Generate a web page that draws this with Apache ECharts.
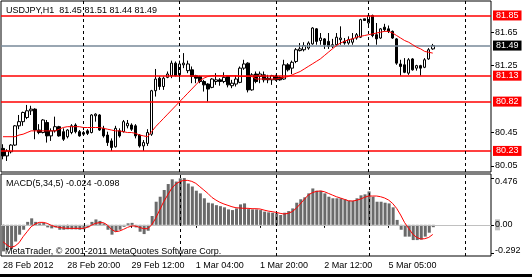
<!DOCTYPE html>
<html>
<head>
<meta charset="utf-8">
<script src="https://cdn.jsdelivr.net/npm/echarts/dist/echarts.min.js"></script>
<style>html,body{margin:0;padding:0;background:#fff;}#c{width:532px;height:277px;}</style>
</head>
<body>
<div id="c"></div>
<script>
const opens  = [80.26,80.17,80.22,80.30,80.53,80.58,80.63,80.71,80.73,80.48,
 80.45,80.57,80.41,80.47,80.52,80.46,80.40,80.45,80.54,80.46,
 80.43,80.47,80.45,80.65,80.66,80.50,80.42,80.35,80.28,80.47,
 80.46,80.53,80.54,80.53,80.42,80.29,80.32,80.43,80.95,81.10,
 81.00,81.11,81.13,81.28,81.14,81.26,81.19,81.20,81.13,81.12,
 81.06,81.03,80.99,81.06,81.08,81.06,81.12,81.01,81.03,81.05,
 81.22,81.28,80.96,81.15,81.12,81.14,81.10,81.08,81.12,81.11,
 81.09,81.26,81.22,81.30,81.43,81.44,81.46,81.51,81.69,81.55,
 81.57,81.54,81.48,81.50,81.56,81.54,81.52,81.53,81.58,81.59,
 81.81,81.76,81.85,81.62,81.58,81.71,81.69,81.66,81.57,81.27,
 81.26,81.16,81.33,81.22,81.25,81.23,81.33,81.45];
const highs  = [80.31,80.25,80.31,80.54,80.66,80.70,80.78,80.77,80.74,80.55,
 80.61,80.60,80.50,80.64,80.53,80.50,80.49,80.55,80.56,80.48,
 80.47,80.49,80.67,80.68,80.67,80.53,80.46,80.38,80.53,80.50,
 80.60,80.60,80.56,80.55,80.43,80.36,80.49,80.96,81.21,81.12,
 81.12,81.18,81.31,81.30,81.31,81.40,81.31,81.24,81.14,81.13,
 81.08,81.04,81.10,81.16,81.10,81.17,81.13,81.08,81.13,81.24,
 81.32,81.29,81.16,81.18,81.18,81.18,81.14,81.14,81.14,81.12,
 81.32,81.28,81.31,81.46,81.52,81.53,81.54,81.71,81.70,81.64,
 81.58,81.64,81.57,81.64,81.72,81.58,81.60,81.64,81.64,81.81,
 81.81,81.86,81.86,81.76,81.70,81.75,81.73,81.67,81.58,81.32,
 81.34,81.34,81.34,81.26,81.26,81.34,81.46,81.51];
const lows   = [80.13,80.11,80.20,80.29,80.49,80.53,80.61,80.66,80.37,80.43,
 80.44,80.33,80.35,80.45,80.40,80.35,80.38,80.43,80.44,80.40,
 80.42,80.42,80.44,80.58,80.47,80.39,80.29,80.23,80.27,80.39,
 80.45,80.50,80.47,80.38,80.27,80.23,80.29,80.41,80.88,80.96,
 80.96,81.10,81.10,81.12,81.08,81.22,81.16,81.04,81.04,81.04,
 80.94,80.82,80.98,81.02,81.01,81.04,80.99,80.98,81.00,81.04,
 81.20,80.93,80.95,81.04,81.04,81.05,81.04,81.02,81.07,81.07,
 81.08,81.18,81.15,81.28,81.42,81.42,81.44,81.50,81.50,81.50,
 81.45,81.45,81.46,81.48,81.50,81.50,81.50,81.50,81.56,81.58,
 81.79,81.72,81.59,81.50,81.57,81.66,81.64,81.57,81.26,81.13,
 81.16,81.14,81.19,81.19,81.13,81.22,81.32,81.44];
const closes = [80.17,80.23,80.30,80.53,80.58,80.69,80.71,80.73,80.48,80.45,
 80.60,80.41,80.47,80.52,80.41,80.37,80.48,80.53,80.46,80.41,
 80.45,80.44,80.66,80.67,80.48,80.41,80.33,80.27,80.50,80.41,
 80.58,80.56,80.49,80.41,80.29,80.33,80.45,80.95,81.09,81.00,
 81.10,81.15,81.28,81.13,81.27,81.28,81.27,81.12,81.10,81.06,
 81.02,80.97,81.09,81.08,81.06,81.11,81.02,81.04,81.09,81.22,
 81.27,80.96,81.14,81.06,81.15,81.08,81.08,81.13,81.08,81.08,
 81.26,81.20,81.29,81.44,81.45,81.49,81.52,81.70,81.54,81.58,
 81.50,81.48,81.50,81.59,81.58,81.52,81.56,81.57,81.62,81.80,
 81.79,81.85,81.61,81.57,81.69,81.68,81.66,81.58,81.28,81.24,
 81.17,81.32,81.20,81.25,81.22,81.32,81.44,81.49];
const maValues = [80.40,80.40,80.40,80.40,80.42,80.43,80.45,80.47,80.47,80.47,
 80.47,80.47,80.47,80.47,80.49,80.51,80.52,80.52,80.52,80.52,
 80.51,80.51,80.51,80.51,80.51,80.50,80.49,80.48,80.47,80.47,
 80.46,80.45,80.45,80.44,80.42,80.41,80.40,80.46,80.52,80.57,
 80.62,80.67,80.72,80.77,80.82,80.87,80.92,80.97,81.02,81.07,
 81.10,81.12,81.13,81.13,81.13,81.13,81.13,81.13,81.13,81.12,
 81.12,81.12,81.12,81.09,81.09,81.09,81.09,81.09,81.09,81.10,
 81.11,81.12,81.14,81.16,81.18,81.21,81.24,81.27,81.30,81.33,
 81.37,81.41,81.45,81.49,81.52,81.54,81.56,81.57,81.59,81.60,
 81.61,81.62,81.63,81.64,81.65,81.66,81.66,81.64,81.61,81.58,
 81.55,81.53,81.50,81.47,81.45,81.42,81.41,81.40];
const macdMain = [-0.27,-0.256,-0.246,-0.17,-0.10,-0.05,0.03,0.066,0.03,0.015,
 0.02,-0.026,-0.036,-0.026,-0.05,-0.05,-0.046,-0.046,-0.046,-0.05,
 -0.046,-0.026,0.03,0.055,0.04,0.015,-0.05,-0.10,-0.07,-0.05,
 -0.02,0.015,0.02,-0.026,-0.07,-0.094,-0.06,0.09,0.235,0.286,
 0.354,0.415,0.463,0.44,0.473,0.476,0.42,0.39,0.347,0.32,
 0.27,0.225,0.218,0.20,0.19,0.178,0.157,0.15,0.167,0.208,
 0.218,0.16,0.157,0.157,0.15,0.134,0.127,0.123,0.117,0.10,
 0.123,0.14,0.167,0.225,0.26,0.28,0.32,0.37,0.347,0.347,
 0.32,0.286,0.27,0.27,0.27,0.26,0.245,0.245,0.27,0.30,
 0.31,0.34,0.286,0.235,0.235,0.225,0.218,0.178,0.05,-0.05,
 -0.12,-0.12,-0.155,-0.155,-0.15,-0.12,-0.08,-0.024];
const macdSignal = [-0.172,-0.206,-0.229,-0.216,-0.182,-0.121,-0.07,-0.019,0.008,0.025,
 0.025,0.015,-0.005,-0.019,-0.026,-0.033,-0.036,-0.036,-0.036,-0.036,
 -0.036,-0.026,-0.005,0.015,0.022,0.022,-0.002,-0.046,-0.07,-0.063,
 -0.046,-0.026,-0.012,-0.012,-0.026,-0.039,-0.039,-0.002,0.066,0.15,
 0.235,0.303,0.371,0.415,0.439,0.452,0.452,0.442,0.422,0.388,
 0.354,0.32,0.279,0.252,0.229,0.212,0.198,0.184,0.174,0.171,
 0.168,0.168,0.164,0.164,0.161,0.15,0.14,0.134,0.127,0.117,
 0.11,0.117,0.134,0.168,0.212,0.259,0.303,0.327,0.34,0.344,
 0.337,0.32,0.303,0.286,0.273,0.259,0.245,0.242,0.249,0.262,
 0.279,0.293,0.293,0.293,0.286,0.273,0.252,0.218,0.168,0.10,
 0.022,-0.036,-0.094,-0.128,-0.144,-0.141,-0.128,-0.098];

const days      = ['28 Feb','29 Feb','1 Mar','2 Mar','5 Mar','6 Mar'];
const dayFirstH = [4,0,0,0,0,0];
const dayEndH   = [24,24,24,23,24,7];
const tickCats  = ['28 Feb 04:00','28 Feb 20:00','29 Feb 12:00','1 Mar 04:00','1 Mar 20:00','2 Mar 12:00','5 Mar 05:00'];
const tickTexts = ['28 Feb 2012','28 Feb 20:00','29 Feb 12:00','1 Mar 04:00','1 Mar 20:00','2 Mar 12:00','5 Mar 05:00'];
const separators = ['29 Feb 00:00','1 Mar 00:00','2 Mar 00:00','5 Mar 00:00','6 Mar 00:00'];

const levels = [81.85, 81.13, 80.82, 80.23];
const bidPrice = 81.49;
const priceTicks = [80.05, 80.45, 81.25, 81.65];
const macdTicks = [0.476, 0, -0.292];
const macdTickTexts = ['{t|0.476}', '{z|0}.00', '{b|-0.292}'];
const macdLast = [-0.024, -0.098];

const cats = [];
days.forEach((d, k) => {
  for (let h = dayFirstH[k]; h < dayEndH[k]; h++) cats.push(d + ' ' + String(h).padStart(2, '0') + ':00');
});
const candles = opens.map((o, i) => [o, closes[i], lows[i], highs[i]]);
const n = opens.length;

const FONT = 'Liberation Sans';
const txt = {fontFamily: FONT, fontSize: 9, color: '#000'};

function priceLabel(bg) {
  return {show: true, position: 'end', distance: 2, formatter: p => Number(p.value).toFixed(2),
    color: '#fff', backgroundColor: bg, padding: [1, 3, 0, 3], fontFamily: FONT, fontSize: 9, lineHeight: 9};
}
function sepMarkLine() {
  return {symbol: ['none', 'none'], silent: true, animation: false,
    lineStyle: {color: '#000', type: [3, 3], width: 1}, label: {show: false},
    data: separators.map(s => ({xAxis: s}))};
}

const chart = echarts.init(document.getElementById('c'), null, {renderer: 'canvas'});
chart.setOption({
  animation: false,
  backgroundColor: '#fff',
  title: [
    {text: `USDJPY,H1  ${opens[n-1].toFixed(2)} ${highs[n-1].toFixed(2)} ${lows[n-1].toFixed(2)} ${closes[n-1].toFixed(2)}`,
     left: 6, top: 6, padding: 0, textStyle: Object.assign({fontWeight: 'normal'}, txt)},
    {text: `MACD(5,34,5) ${macdLast[0].toFixed(3)} ${macdLast[1].toFixed(3)}`,
     left: 6, top: 179, padding: 0, textStyle: Object.assign({fontWeight: 'normal'}, txt)},
    {text: 'MetaTrader, © 2001-2011 MetaQuotes Software Corp.',
     left: 5, top: 247, padding: 0, textStyle: Object.assign({fontWeight: 'normal'}, txt)}
  ],
  graphic: [{type: 'rect', left: 0, bottom: 0, shape: {width: 532, height: 3}, style: {fill: '#000'}}],
  grid: [
    {left: 1, right: 41, top: 1, height: 171, show: true, borderColor: '#000', borderWidth: 1, backgroundColor: 'transparent'},
    {left: 1, right: 41, top: 174, bottom: 21, show: true, borderColor: '#000', borderWidth: 1, backgroundColor: 'transparent'}
  ],
  xAxis: [
    {type: 'category', gridIndex: 0, data: cats, boundaryGap: true,
     axisLine: {show: false}, axisTick: {show: false}, axisLabel: {show: false}, splitLine: {show: false}},
    {type: 'category', gridIndex: 1, data: cats, boundaryGap: true,
     axisLine: {show: false},
     axisTick: {show: true, length: 3, alignWithLabel: true, interval: (i, v) => tickCats.includes(v), lineStyle: {color: '#000'}},
     axisLabel: Object.assign({interval: (i, v) => tickCats.includes(v), formatter: v => tickTexts[tickCats.indexOf(v)],
       align: 'left', margin: 5}, txt),
     splitLine: {show: false}}
  ],
  yAxis: [
    {type: 'value', gridIndex: 0, position: 'right', min: 79.978, max: 82.023, scale: true,
     splitLine: {show: false}, axisLine: {show: false},
     axisTick: {show: true, length: 3, customValues: priceTicks, lineStyle: {color: '#000'}},
     axisLabel: Object.assign({customValues: priceTicks, margin: 4, formatter: v => v.toFixed(2)}, txt)},
    {type: 'value', gridIndex: 1, position: 'right', min: -0.317, max: 0.517,
     splitLine: {show: false}, axisLine: {show: false},
     axisTick: {show: true, length: 3, customValues: macdTicks, lineStyle: {color: '#000'}},
     axisLabel: Object.assign({customValues: macdTicks, margin: 4,
       formatter: v => macdTickTexts[macdTicks.findIndex(t => Math.abs(t - v) < 1e-6)],
       rich: {t: {padding: [6, 0, 0, 0], fontFamily: FONT, fontSize: 9},
              b: {padding: [0, 0, 7, 0], fontFamily: FONT, fontSize: 9},
              z: {backgroundColor: '#c0c0c0', fontFamily: FONT, fontSize: 9, padding: [1, 0, 1, 0]}}}, txt)}
  ],
  series: [
    {type: 'line', name: 'levels', xAxisIndex: 0, yAxisIndex: 0, data: [], silent: true, color: '#ff0000',
     markLine: {symbol: ['none', 'none'], silent: true, animation: false,
       lineStyle: {color: '#ff0000', type: 'solid', width: 1.5, opacity: 1}, label: priceLabel('#ff0000'),
       data: levels.map(v => ({yAxis: v}))}},
    {type: 'line', name: 'bid', xAxisIndex: 0, yAxisIndex: 0, data: [], silent: true, color: '#778899',
     markLine: {symbol: ['none', 'none'], silent: true, animation: false,
       lineStyle: {color: '#778899', type: 'solid', width: 1.5}, label: priceLabel('#000'),
       data: [{yAxis: bidPrice}]}},
    {type: 'candlestick', xAxisIndex: 0, yAxisIndex: 0, data: candles, barWidth: 3, z: 4,
     itemStyle: {color: '#fff', color0: '#000', borderColor: '#000', borderColor0: '#000', borderWidth: 1},
     markLine: sepMarkLine()},
    {type: 'line', xAxisIndex: 0, yAxisIndex: 0, data: maValues, showSymbol: false, symbol: 'none',
     lineStyle: {color: '#ff0000', width: 1}, z: 5},
    {type: 'bar', xAxisIndex: 1, yAxisIndex: 1, data: [], silent: true,
     markLine: {symbol: ['none', 'none'], silent: true, animation: false,
       lineStyle: {color: '#c0c0c0', type: 'solid', width: 1}, label: {show: false},
       data: [{yAxis: 0}]}},
    {type: 'bar', xAxisIndex: 1, yAxisIndex: 1, data: macdMain, barWidth: 3, z: 3,
     itemStyle: {color: '#6a6a6a'},
     markLine: sepMarkLine()},
    {type: 'line', xAxisIndex: 1, yAxisIndex: 1, data: macdSignal, showSymbol: false, symbol: 'none',
     lineStyle: {color: '#ff0000', width: 1}, z: 5}
  ]
});
</script>
</body>
</html>
